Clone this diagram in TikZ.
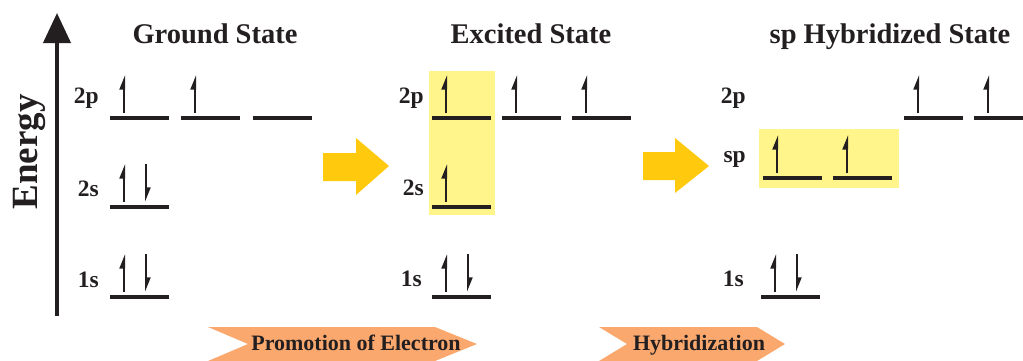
\documentclass[tikz,border=0pt]{standalone}
\usepackage{fontspec}
\setmainfont{Liberation Serif}
\usetikzlibrary{arrows.meta}
\definecolor{ink}{HTML}{231F20}
\definecolor{hilite}{HTML}{FFF58A}
\definecolor{gold}{HTML}{FFC90E}
\definecolor{peach}{HTML}{FAA86E}

% electron spins on a level starting at (#1,#2)
\newcommand{\upe}[2]{\draw[spin] (#1+14,#2-5) -- (#1+14,#2-43);}
\newcommand{\dne}[2]{\draw[spin] (#1+36,#2-43) -- (#1+36,#2-5);}

\begin{document}
\begin{tikzpicture}[x=1pt, y=-1pt,
    title/.style={font=\fontsize{28.5}{30}\selectfont\bfseries, text=ink, anchor=base, inner sep=0pt},
    orb/.style={font=\fontsize{23.5}{25}\selectfont\bfseries, text=ink, anchor=base east, inner sep=0pt},
    tag/.style={font=\fontsize{22}{24}\selectfont\bfseries, text=ink, anchor=base, inner sep=0pt},
    level/.style={draw=ink, line width=4pt},
    spin/.style={draw=ink, line width=2pt, -{Triangle[left, length=12pt, width=9pt]}}
]
    \useasboundingbox (0,0) rectangle (1023,360);

    % Energy axis
    \coordinate (ebot) at (57,316);
    \coordinate (etop) at (57,13);
    \draw[ink, line width=4pt, -{Triangle[length=30pt, width=27pt]}] (ebot) -- (etop);
    \node[rotate=90, anchor=base, inner sep=0pt, text=ink, font=\fontsize{37}{40}\selectfont\bfseries] (energy) at (37,152) {Energy};

    % Ground State
    \node[title] (gtitle) at (215,43) {Ground State};
    \node[orb] (g2p) at (99,103) {2p};
    \node[orb] (g2s) at (99,196) {2s};
    \node[orb] (g1s) at (99,287) {1s};
    \foreach \x in {110,181,253} \draw[level] (\x,118) -- ++(59,0);
    \draw[level] (110,207) -- ++(59,0);
    \draw[level] (110,297) -- ++(59,0);
    \upe{110}{118} \upe{181}{118}
    \upe{110}{207} \dne{110}{207}
    \upe{110}{297} \dne{110}{297}

    % Promotion arrow
    \fill[gold] (323,153) -- (356,153) -- (356,138) -- (389,166) -- (356,195) -- (356,181) -- (323,181) -- cycle;

    % Excited State
    \fill[hilite] (429,71) rectangle (495,215);
    \node[title] (etitle) at (531,43) {Excited State};
    \node[orb] (e2p) at (424,103) {2p};
    \node[orb] (e2s) at (424,195) {2s};
    \node[orb] (e1s) at (422,286) {1s};
    \foreach \x in {432,502,572} {
        \draw[level] (\x,118) -- ++(59,0);
        \upe{\x}{118}
    }
    \draw[level] (432,207) -- ++(59,0);
    \draw[level] (432,297) -- ++(59,0);
    \upe{432}{207}
    \upe{432}{297} \dne{432}{297}

    % Hybridization arrow
    \fill[gold] (643,152) -- (675,152) -- (675,138) -- (709,166) -- (675,193) -- (675,180) -- (643,180) -- cycle;

    % sp Hybridized State
    \fill[hilite] (759,129) rectangle (899,188);
    \node[title] (htitle) at (890,43) {sp Hybridized State};
    \node[orb] (h2p) at (746,103) {2p};
    \node[orb] (hsp) at (746,162) {sp};
    \node[orb] (h1s) at (744,286) {1s};
    \foreach \x in {763,833} {
        \draw[level] (\x,178) -- ++(59,0);
        \upe{\x}{178}
    }
    \draw[level] (904,118) -- ++(59,0);
    \draw[level] (974,118) -- (1023,118);
    \upe{904}{118} \upe{974}{118}
    \draw[level] (761,297) -- ++(59,0);
    \upe{761}{297} \dne{761}{297}

    % Step labels
    \fill[peach] (208,327) -- (435,327) -- (477,344) -- (435,361) -- (208,361) -- (248,344) -- cycle;
    \node[tag] (promo) at (356,350) {Promotion of Electron};
    \fill[peach] (599,327) -- (757,327) -- (785,344) -- (757,361) -- (599,361) -- (627,344) -- cycle;
    \node[tag] (hybr) at (699,350) {Hybridization};
\end{tikzpicture}
\end{document}
